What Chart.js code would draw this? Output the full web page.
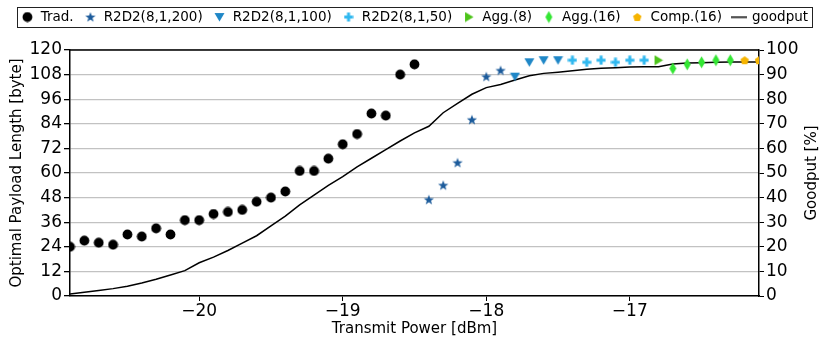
<!DOCTYPE html>
<html>
<head>
<meta charset="utf-8">
<script src="https://cdn.jsdelivr.net/npm/chart.js@4.4.1/dist/chart.umd.min.js"></script>
<style>
    body { margin: 0; background: #ffffff; }
</style>
</head>
<body>
<canvas id="chart" width="829" height="352"></canvas>
<script>
// Transmit power [dBm] / optimal payload length [byte] per scheme
const tradPower = [-20.9, -20.8, -20.7, -20.6, -20.5, -20.4, -20.3, -20.2, -20.1, -20.0, -19.9, -19.8, -19.7,
    -19.6, -19.5, -19.4, -19.3, -19.2, -19.1, -19.0, -18.9, -18.8, -18.7, -18.6, -18.5];
const tradLen = [24, 27, 26, 25, 30, 29, 33, 30, 37, 37, 40, 41, 42, 46, 48, 51, 61, 61, 67, 74, 79, 89, 88, 108, 113];

const r2d2_200Power = [-18.4, -18.3, -18.2, -18.1, -18.0, -17.9];
const r2d2_200Len = [47, 54, 65, 86, 107, 110];

const r2d2_100Power = [-17.8, -17.7, -17.6, -17.5];
const r2d2_100Len = [107, 114, 115, 115];

const r2d2_50Power = [-17.4, -17.3, -17.2, -17.1, -17.0, -16.9];
const r2d2_50Len = [115, 114, 115, 114, 115, 115];

const agg8Power = [-16.8];
const agg8Len = [115];

const agg16Power = [-16.7, -16.6, -16.5, -16.4, -16.3];
const agg16Len = [111, 113, 114, 115, 115];

const comp16Power = [-16.2, -16.1];
const comp16Len = [115, 115];

// Goodput [%]
const goodputPower = [-20.9, -20.8, -20.7, -20.6, -20.5, -20.4, -20.3, -20.2, -20.1, -20.0, -19.9, -19.8, -19.7,
    -19.6, -19.5, -19.4, -19.3, -19.2, -19.1, -19.0, -18.9, -18.8, -18.7, -18.6, -18.5, -18.4, -18.3, -18.2,
    -18.1, -18.0, -17.9, -17.8, -17.7, -17.6, -17.5, -17.4, -17.3, -17.2, -17.1, -17.0, -16.9, -16.8, -16.7,
    -16.6, -16.5, -16.4, -16.3, -16.2, -16.1];
const goodput = [0.8, 1.5, 2.2, 3.0, 4.0, 5.3, 6.8, 8.5, 10.3, 13.5, 15.8, 18.5, 21.5, 24.5, 28.5, 32.5, 37, 41,
    45, 48.5, 52.5, 56, 59.5, 63, 66.3, 69, 74.5, 78.3, 82, 84.7, 86, 87.8, 89.5, 90.5, 91, 91.6, 92.2, 92.6,
    92.8, 93.1, 93.2, 93.2, 94.3, 94.7, 94.8, 95.0, 95.1, 95.1, 95.1];

const xTicks = [-20, -19, -18, -17];

const FONT = "'DejaVu Sans', sans-serif";

const pts = (xs, ys) => xs.map((x, i) => ({x: x, y: ys[i]}));

// маркеры рисуем сами, чтобы форма совпадала
function marker(w, h, draw) {
    const c = document.createElement('canvas');
    c.width = w;
    c.height = h;
    const ctx = c.getContext('2d');
    draw(ctx, w, h);
    return c;
}

function poly(ctx, points, color) {
    ctx.beginPath();
    points.forEach(([x, y], i) => i ? ctx.lineTo(x, y) : ctx.moveTo(x, y));
    ctx.closePath();
    ctx.fillStyle = color;
    ctx.fill();
}

const circleImg = marker(11, 11, (ctx) => {
    ctx.beginPath();
    ctx.arc(5.5, 5.5, 4.9, 0, Math.PI * 2);
    ctx.fillStyle = '#000000';
    ctx.fill();
});

const starImg = marker(12, 12, (ctx) => {
    const p = [];
    for (let i = 0; i < 10; i++) {
        const r = i % 2 ? 2.2 : 5.4;
        const a = -Math.PI / 2 + i * Math.PI / 5;
        p.push([6 + r * Math.cos(a), 6.4 + r * Math.sin(a)]);
    }
    poly(ctx, p, '#1c5b9b');
});

const triDownImg = marker(11, 10, (ctx) => {
    poly(ctx, [[0.5, 1], [10.5, 1], [5.5, 9.5]], '#1f87c7');
});

const plusImg = marker(10, 10, (ctx) => {
    ctx.fillStyle = '#30b8ef';
    ctx.fillRect(3.5, 0.5, 3, 9);
    ctx.fillRect(0.5, 3.5, 9, 3);
});

const triRightImg = marker(10, 11, (ctx) => {
    poly(ctx, [[1, 0.5], [9.5, 5.5], [1, 10.5]], '#4dc41a');
});

const diamondImg = marker(9, 13, (ctx) => {
    poly(ctx, [[4.5, 0.5], [8, 6.5], [4.5, 12.5], [1, 6.5]], '#33e633');
});

const pentagonImg = marker(10, 10, (ctx) => {
    const p = [];
    for (let i = 0; i < 5; i++) {
        const a = -Math.PI / 2 + i * 2 * Math.PI / 5;
        p.push([5 + 4.4 * Math.cos(a), 5.4 + 4.4 * Math.sin(a)]);
    }
    poly(ctx, p, '#f6b400');
});

const lineImg = marker(16, 3, (ctx) => {
    ctx.fillStyle = '#000000';
    ctx.fillRect(0, 0.75, 16, 1.5);
});

const scatterSet = (label, data, img) => ({
    label: label,
    data: data,
    pointStyle: img,
    pointRadius: 5,
    pointHoverRadius: 5,
    backgroundColor: '#000000',
    borderColor: '#000000',
    yAxisID: 'y'
});

// рамка легенды, верхняя граница и подпись правой оси
const framePlugin = {
    id: 'framePlugin',
    beforeInit(chart) {
        const originalFit = chart.legend.fit;
        chart.legend.fit = function fit() {
            originalFit.bind(chart.legend)();
            this.height = 50;
        };
    },
    afterDraw(chart) {
        const ctx = chart.ctx;
        const area = chart.chartArea;
        ctx.save();

        const boxes = chart.legend.legendHitBoxes;
        if (boxes && boxes.length) {
            const left = Math.min(...boxes.map(b => b.left)) - 4;
            const right = Math.max(...boxes.map(b => b.left + b.width)) + 4;
            const top = boxes[0].top - 3;
            const h = boxes[0].height + 6;
            ctx.strokeStyle = '#222222';
            ctx.lineWidth = 1;
            ctx.strokeRect(Math.round(left) + 0.5, Math.round(top) + 0.5, Math.round(right - left), Math.round(h));
        }

        ctx.strokeStyle = '#000000';
        ctx.lineWidth = 1.5;
        ctx.beginPath();
        ctx.moveTo(area.left, area.top);
        ctx.lineTo(area.right, area.top);
        ctx.stroke();

        ctx.translate(812, (area.top + area.bottom) / 2);
        ctx.rotate(-Math.PI / 2);
        ctx.font = '15px ' + FONT;
        ctx.fillStyle = '#000000';
        ctx.textAlign = 'center';
        ctx.textBaseline = 'middle';
        ctx.fillText('Goodput [%]', 0, 0);
        ctx.restore();
    }
};

const minus = (v) => String(v).replace('-', '\u2212');

new Chart(document.getElementById('chart'), {
    type: 'scatter',
    data: {
        datasets: [
            scatterSet('Trad.', pts(tradPower, tradLen), circleImg),
            scatterSet('R2D2(8,1,200)', pts(r2d2_200Power, r2d2_200Len), starImg),
            scatterSet('R2D2(8,1,100)', pts(r2d2_100Power, r2d2_100Len), triDownImg),
            scatterSet('R2D2(8,1,50)', pts(r2d2_50Power, r2d2_50Len), plusImg),
            scatterSet('Agg.(8)', pts(agg8Power, agg8Len), triRightImg),
            scatterSet('Agg.(16)', pts(agg16Power, agg16Len), diamondImg),
            scatterSet('Comp.(16)', pts(comp16Power, comp16Len), pentagonImg),
            {
                type: 'line',
                label: 'goodput',
                data: pts(goodputPower, goodput),
                yAxisID: 'y2',
                borderColor: '#000000',
                backgroundColor: '#000000',
                borderWidth: 1.5,
                pointRadius: 0,
                pointStyle: lineImg,
                tension: 0,
                fill: false
            }
        ]
    },
    options: {
        responsive: false,
        animation: false,
        layout: {padding: 0},
        plugins: {
            tooltip: {enabled: false},
            legend: {
                display: true,
                position: 'top',
                labels: {
                    usePointStyle: true,
                    boxWidth: 13,
                    boxHeight: 13,
                    padding: 10.3,
                    color: '#000000',
                    font: {family: FONT, size: 13.5}
                }
            }
        },
        scales: {
            x: {
                type: 'linear',
                min: -20.9,
                max: -16.1,
                afterBuildTicks(scale) {
                    scale.ticks = xTicks.map(v => ({value: v}));
                },
                afterFit(scale) {
                    scale.height = 56;
                },
                grid: {drawOnChartArea: false, drawTicks: true, tickLength: 5, tickColor: '#000000'},
                border: {color: '#000000', width: 1.5},
                ticks: {
                    color: '#000000',
                    padding: 0,
                    maxRotation: 0,
                    font: {family: FONT, size: 17},
                    callback: (v) => minus(v)
                },
                title: {
                    display: true,
                    text: 'Transmit Power [dBm]',
                    color: '#000000',
                    font: {family: FONT, size: 15},
                    padding: {top: 0, bottom: 14}
                }
            },
            y: {
                position: 'left',
                min: 0,
                max: 120,
                afterFit(scale) {
                    scale.width = 70;
                },
                ticks: {
                    stepSize: 12,
                    color: '#000000',
                    padding: 2,
                    font: {family: FONT, size: 17}
                },
                grid: {color: '#c2c2c2', lineWidth: 1.3, tickLength: 6, tickColor: '#000000'},
                border: {color: '#000000', width: 1.5},
                title: {
                    display: true,
                    text: 'Optimal Payload Length [byte]',
                    color: '#000000',
                    font: {family: FONT, size: 15},
                    padding: {top: 8, bottom: 0}
                }
            },
            y2: {
                position: 'right',
                min: 0,
                max: 100,
                afterFit(scale) {
                    scale.width = 70;
                },
                ticks: {
                    stepSize: 10,
                    color: '#000000',
                    padding: 2,
                    font: {family: FONT, size: 17}
                },
                grid: {drawOnChartArea: false, tickLength: 5, tickColor: '#000000'},
                border: {color: '#000000', width: 1.5}
            }
        }
    },
    plugins: [framePlugin]
});
</script>
</body>
</html>
